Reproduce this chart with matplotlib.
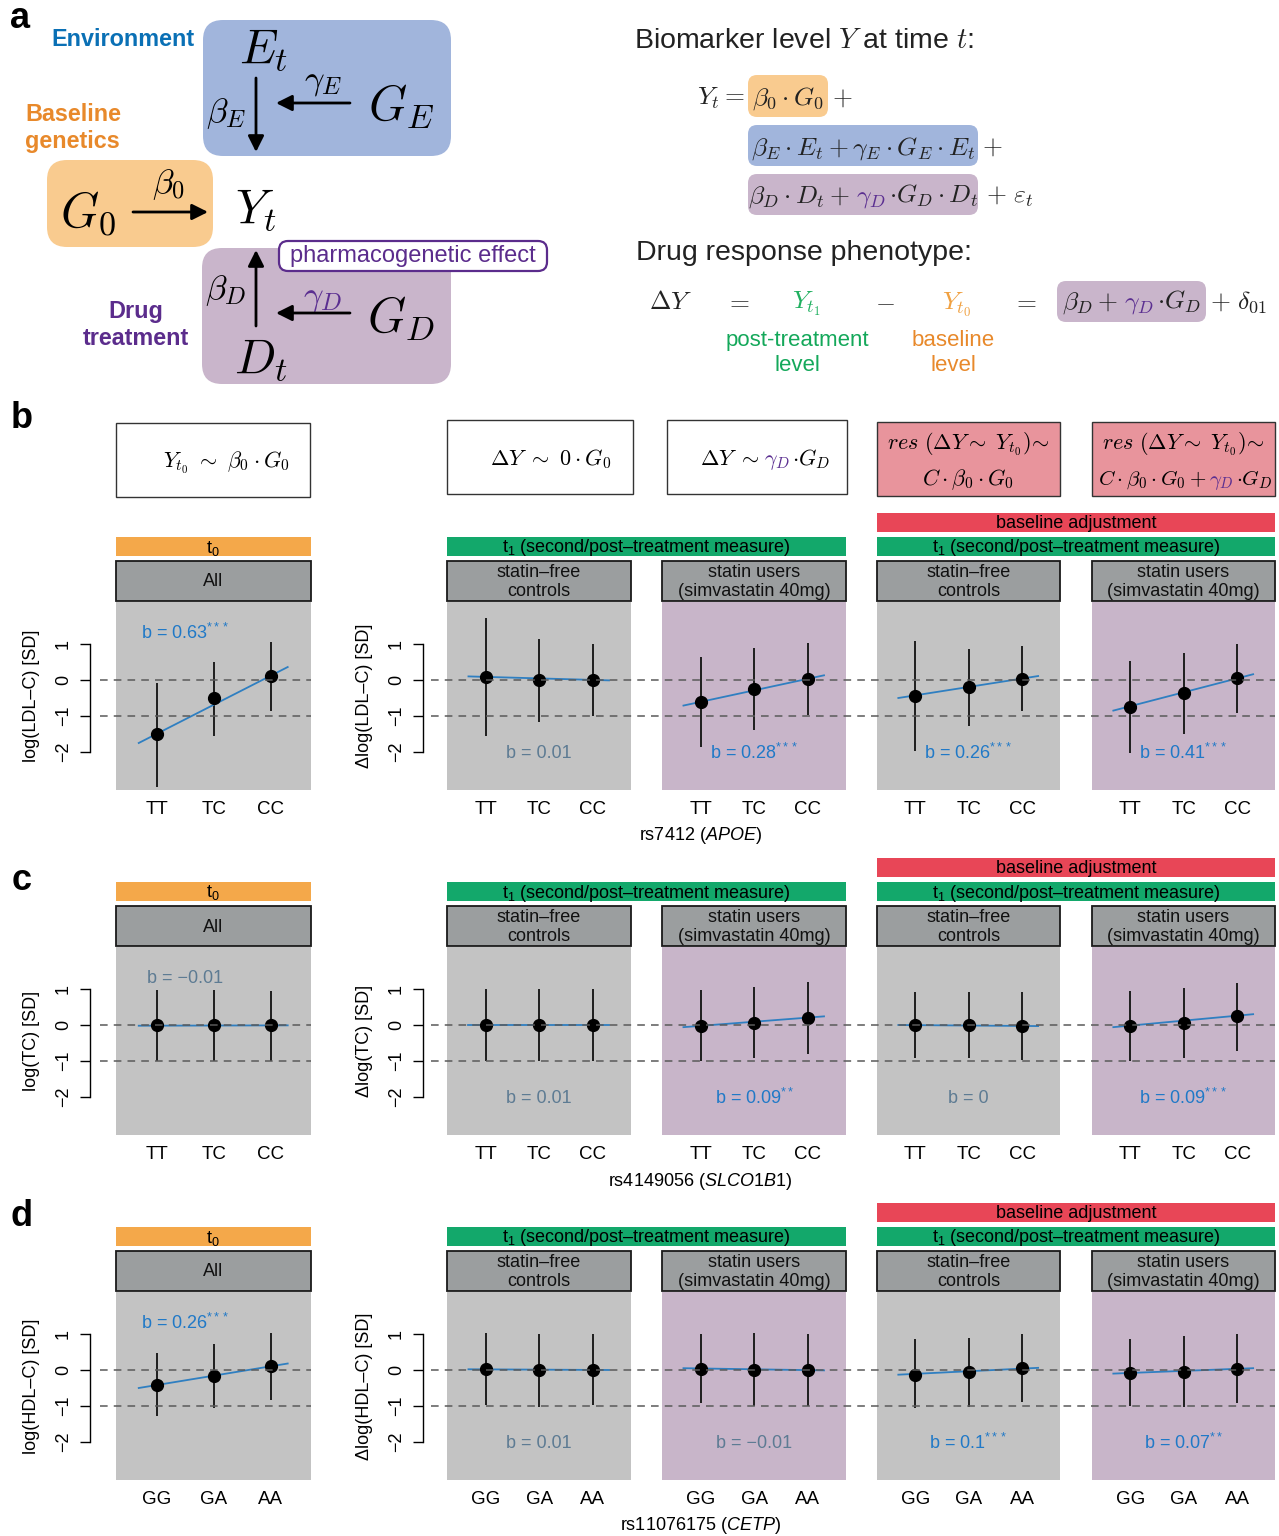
import matplotlib
matplotlib.use('Agg')
import matplotlib.pyplot as plt
from matplotlib.patches import FancyBboxPatch, Rectangle

plt.rcParams['font.family'] = ['Liberation Sans', 'DejaVu Sans']
plt.rcParams['mathtext.fontset'] = 'custom'
plt.rcParams['mathtext.rm'] = 'Liberation Sans'
plt.rcParams['mathtext.it'] = 'Liberation Sans:italic'
plt.rcParams['mathtext.bf'] = 'Liberation Sans:bold'

# ---------------- data ----------------
geno_ldl = ['TT', 'TC', 'CC']
geno_tc = ['TT', 'TC', 'CC']
geno_hdl = ['GG', 'GA', 'AA']

panel_headers = ['All', 'statin\u2013free\ncontrols', 'statin users\n(simvastatin 40mg)',
                 'statin\u2013free\ncontrols', 'statin users\n(simvastatin 40mg)']

ldl_mean = [[-1.50, -0.50, 0.10], [0.08, 0.00, 0.00], [-0.60, -0.25, 0.03],
            [-0.44, -0.20, 0.03], [-0.74, -0.36, 0.05]]
ldl_lo = [[-2.97, -1.55, -0.86], [-1.55, -1.17, -1.00], [-1.85, -1.39, -0.97],
          [-1.96, -1.28, -0.87], [-2.02, -1.49, -0.92]]
ldl_hi = [[-0.08, 0.50, 1.05], [1.72, 1.14, 1.00], [0.64, 0.89, 1.03],
          [1.09, 0.85, 0.94], [0.53, 0.76, 1.00]]
ldl_fit = [[-1.75, 0.36], [0.10, -0.01], [-0.71, 0.13], [-0.50, 0.11], [-0.85, 0.16]]
ldl_b = ['b = 0.63$^{***}$', 'b = 0.01', 'b = 0.28$^{***}$', 'b = 0.26$^{***}$', 'b = 0.41$^{***}$']
ldl_sig = [True, False, True, True, True]

tc_mean = [[0.00, 0.00, 0.00], [0.00, 0.00, 0.00], [-0.02, 0.05, 0.20],
           [0.00, 0.00, -0.02], [-0.02, 0.05, 0.24]]
tc_lo = [[-0.99, -1.00, -0.99], [-1.00, -1.00, -1.00], [-1.01, -0.93, -0.80],
         [-0.93, -0.92, -0.96], [-1.00, -0.92, -0.71]]
tc_hi = [[0.98, 0.98, 0.94], [1.01, 1.01, 1.00], [0.98, 1.05, 1.20],
         [0.92, 0.92, 0.92], [0.95, 1.02, 1.17]]
tc_fit = [[-0.02, -0.01], [0.00, 0.00], [-0.06, 0.24], [0.00, -0.03], [-0.06, 0.30]]
tc_b = ['b = \u22120.01', 'b = 0.01', 'b = 0.09$^{**}$', 'b = 0', 'b = 0.09$^{***}$']
tc_sig = [False, False, True, False, True]

hdl_mean = [[-0.42, -0.16, 0.11], [0.03, -0.01, 0.01], [0.04, 0.00, 0.00],
            [-0.15, -0.06, 0.05], [-0.07, -0.05, 0.04]]
hdl_lo = [[-1.28, -1.06, -0.82], [-0.98, -1.02, -0.98], [-0.93, -1.00, -1.00],
          [-1.06, -1.02, -0.90], [-1.00, -1.03, -0.92]]
hdl_hi = [[0.46, 0.73, 1.02], [1.03, 1.00, 1.00], [1.00, 1.03, 1.00],
          [0.85, 0.90, 1.00], [0.85, 0.94, 1.00]]
hdl_fit = [[-0.50, 0.18], [0.02, 0.00], [0.05, -0.01], [-0.13, 0.06], [-0.10, 0.05]]
hdl_b = ['b = 0.26$^{***}$', 'b = 0.01', 'b = \u22120.01', 'b = 0.1$^{***}$', 'b = 0.07$^{**}$']
hdl_sig = [True, False, False, True, True]

ylabels_ldl = ['log(LDL\u2013C) [SD]', '\u0394log(LDL\u2013C) [SD]']
ylabels_tc = ['log(TC) [SD]', '\u0394log(TC) [SD]']
ylabels_hdl = ['log(HDL\u2013C) [SD]', '\u0394log(HDL\u2013C) [SD]']
xlabel_ldl = 'rs7412 ($\\mathit{APOE}$)'
xlabel_tc = 'rs4149056 ($\\mathit{SLCO1B1}$)'
xlabel_hdl = 'rs11076175 ($\\mathit{CETP}$)'

# ---------------- style ----------------
W, H = 1279, 1536
fig = plt.figure(figsize=(W / 100, H / 100), dpi=100)

C_GRAY_BG = '#c3c3c3'
C_PURP_BG = '#c8b5c9'
C_HEAD = '#9b9e9f'
C_ORANGE = '#f4a84a'
C_GREEN = '#13a86b'
C_RED = '#e84657'
C_PINK = '#e8949c'
C_SIG = '#2079c7'
C_NS = '#5d7b93'
C_FIT = '#2f7fc1'
C_PURPLE = '#5b2f91'
C_TXT = '#222222'

PX = [(116, 311), (447, 631), (662, 846), (877, 1060), (1092, 1275)]
BG = [C_GRAY_BG, C_GRAY_BG, C_PURP_BG, C_GRAY_BG, C_PURP_BG]
YLIM = (-110 / 36, 78 / 36)
XLIM = (0.28, 3.71)
XPOS = [1, 2, 3]
LINE_X = [0.68, 3.30]
ANNOT_X = [1.5, 2, 2, 2, 2]
ANNOT_Y = [1.3, -2.03, -2.03, -2.03, -2.03]
DASH_SEGS = [(100, 311), (431, 1275)]


def pax(x0, y0, x1, y1):
    return fig.add_axes([x0 / W, 1 - y1 / H, (x1 - x0) / W, (y1 - y0) / H])


canvas = fig.add_axes([0, 0, 1, 1])
canvas.set_xlim(0, W)
canvas.set_ylim(H, 0)
canvas.axis('off')
renderer = fig.canvas.get_renderer()


def rich(x, y, parts, fontsize, ha='center', va='baseline'):
    """parts: (string, colour, gap after in px)"""
    texts = []
    cx = x
    for s, c, gap in parts:
        t = canvas.text(cx, y, s, color=c, fontsize=fontsize, ha='left', va=va,
                        math_fontfamily='cm')
        w = t.get_window_extent(renderer).width
        texts.append(t)
        cx += w + gap
    total = cx - x
    if ha == 'center':
        for t in texts:
            px_, py_ = t.get_position()
            t.set_position((px_ - total / 2, py_))
    return texts


def rbox(x0, y0, x1, y1, fc, ec='none', lw=0, r=14, z=1):
    p = FancyBboxPatch((x0, y0), x1 - x0, y1 - y0,
                       boxstyle='round,pad=0,rounding_size=%d' % r,
                       fc=fc, ec=ec, lw=lw, zorder=z)
    canvas.add_patch(p)


def rect(x0, y0, x1, y1, fc, ec='none', lw=0):
    canvas.add_patch(Rectangle((x0, y0), x1 - x0, y1 - y0, fc=fc, ec=ec, lw=lw))


def arrow(x0, y0, x1, y1):
    canvas.annotate('', xy=(x1, y1), xytext=(x0, y0),
                    arrowprops=dict(arrowstyle='-|>', lw=2, color='black',
                                    mutation_scale=24, shrinkA=0, shrinkB=0))


# ---------------- panel a ----------------
for lab, (x, y) in zip('abcd', [(20, 18), (22, 418), (22, 880), (22, 1217)]):
    canvas.text(x, y, lab, fontsize=26, fontweight='bold', ha='center', va='center')

rbox(203, 20, 451, 156, '#a1b5dc', r=20)
rbox(47, 160, 213, 247, '#f9cb8f', r=20)
rbox(202, 248, 451, 384, '#c9b5cb', r=20)
canvas.text(123, 39, 'Environment', color='#0a70b5', fontsize=16.8,
            fontweight='bold', ha='center', va='center')
canvas.text(25, 128, 'Baseline\ngenetics', color='#e8892b', fontsize=16.8,
            fontweight='bold', ha='left', va='center', linespacing=1.27)
canvas.text(136, 325, 'Drug\ntreatment', color='#5b2c8c', fontsize=16.8,
            fontweight='bold', ha='center', va='center', linespacing=1.27)

mt = dict(math_fontfamily='cm', ha='center', va='center', color='black')
canvas.text(264, 50, r'$E_t$', fontsize=35, **mt)
canvas.text(401, 106, r'$G_E$', fontsize=35, **mt)
canvas.text(226, 114, r'$\beta_E$', fontsize=25, **mt)
canvas.text(323, 82, r'$\gamma_E$', fontsize=25, **mt)
arrow(256, 78, 256, 152)
arrow(350, 103, 276, 103)
canvas.text(88, 213, r'$G_0$', fontsize=35, **mt)
canvas.text(168, 185, r'$\beta_0$', fontsize=25, **mt)
arrow(133, 212, 208, 212)
canvas.text(256, 210, r'$Y_t$', fontsize=35, **mt)
canvas.text(226, 291, r'$\beta_D$', fontsize=25, **mt)
arrow(256, 326, 256, 250)
canvas.text(323, 298, r'$\gamma_D$', fontsize=25, math_fontfamily='cm',
            ha='center', va='center', color=C_PURPLE)
arrow(350, 313, 276, 313)
canvas.text(401, 318, r'$G_D$', fontsize=35, **mt)
canvas.text(261, 360, r'$D_t$', fontsize=35, **mt)
rbox(279, 241, 547, 271, 'white', ec='#5b2c8c', lw=1.6, r=9, z=3)
canvas.text(413, 256, 'pharmacogenetic effect', color='#5b2c8c', fontsize=17,
            ha='center', va='center', zorder=4)

# right side equations
FS = 18.5
canvas.text(634, 41, r'Biomarker level $Y$ at time $t$:', fontsize=20.5,
            color=C_TXT, ha='left', va='center', math_fontfamily='cm')
canvas.text(745, 105, r'$Y_t =$', fontsize=FS, color=C_TXT, ha='right',
            va='baseline', math_fontfamily='cm')
rbox(748, 75, 828, 117, '#f9cb8f', r=9)
rich(788, 105, [(r'$\beta_0 \cdot G_0$', C_TXT, 0)], FS)
canvas.text(832, 105, r'$+$', fontsize=FS, color=C_TXT, ha='left', va='baseline',
            math_fontfamily='cm')
rbox(748, 125, 978, 166, '#a1b5dc', r=9)
rich(863, 154, [(r'$\beta_E \cdot E_t + \gamma_E \cdot G_E \cdot E_t$', C_TXT, 0)], FS)
canvas.text(982, 154, r'$+$', fontsize=FS, color=C_TXT, ha='left', va='baseline',
            math_fontfamily='cm')
rbox(748, 174, 978, 215, '#c9b5cb', r=9)
rich(863, 203, [(r'$\beta_D \cdot D_t +$', C_TXT, 6), (r'$\gamma_D$', C_PURPLE, 3),
                (r'$\cdot G_D \cdot D_t$', C_TXT, 0)], FS)
canvas.text(986, 203, r'$+\ \varepsilon_t$', fontsize=FS, color=C_TXT, ha='left',
            va='baseline', math_fontfamily='cm')

canvas.text(636, 253, 'Drug response phenotype:', fontsize=20.5, color=C_TXT,
            ha='left', va='center')
for x, s, c in [(671, r'$\Delta Y$', C_TXT), (738, r'$=$', C_TXT),
                (806, r'$Y_{t_1}$', '#20b060'), (885, r'$-$', C_TXT),
                (957, r'$Y_{t_0}$', '#f0a040'), (1025, r'$=$', C_TXT)]:
    canvas.text(x, 309, s, fontsize=FS, color=c, ha='center', va='baseline',
                math_fontfamily='cm')
rbox(1057, 281, 1206, 322, '#c9b5cb', r=9)
rich(1131, 309, [(r'$\beta_D +$', C_TXT, 6), (r'$\gamma_D$', C_PURPLE, 3),
                 (r'$\cdot G_D$', C_TXT, 0)], FS)
canvas.text(1210, 309, r'$+\ \delta_{01}$', fontsize=FS, color=C_TXT, ha='left',
            va='baseline', math_fontfamily='cm')
canvas.text(797, 353, 'post-treatment\nlevel', color='#14a85a', fontsize=16,
            ha='center', va='center', linespacing=1.29)
canvas.text(953, 353, 'baseline\nlevel', color='#e8892b', fontsize=16,
            ha='center', va='center', linespacing=1.29)

# ---------------- formula boxes (row b) ----------------
FB = 16
rect(116, 423, 310, 497, 'white', ec='#333333', lw=1)
rich(226, 468, [(r'$Y_{t_0}\ \sim\ \beta_0 \cdot G_0$', 'black', 0)], FB)
rect(447, 420, 633, 494, 'white', ec='#333333', lw=1)
rich(551, 465, [(r'$\Delta Y\ \sim\ \mathit{0} \cdot G_0$', 'black', 0)], FB)
rect(667, 420, 847, 494, 'white', ec='#333333', lw=1)
rich(765, 465, [(r'$\Delta Y\ \sim$', 'black', 5), (r'$\gamma_D$', C_PURPLE, 2),
                (r'$\cdot G_D$', 'black', 0)], FB)
rect(877, 422, 1060, 496, C_PINK, ec='#333333', lw=1)
rich(968, 450, [(r'$res\ (\Delta Y \sim\ Y_{t_0})\!\sim$', 'black', 0)], FB)
rich(968, 485, [(r'$C \cdot \beta_0 \cdot G_0$', 'black', 0)], FB)
rect(1092, 422, 1275, 496, C_PINK, ec='#333333', lw=1)
rich(1183, 450, [(r'$res\ (\Delta Y \sim\ Y_{t_0})\!\sim$', 'black', 0)], FB)
rich(1185, 485, [(r'$C \cdot \beta_0 \cdot G_0 +$', 'black', 3), (r'$\gamma_D$', C_PURPLE, 2),
                 (r'$\cdot G_D$', 'black', 0)], 15.2)

# ---------------- data rows ----------------
rows = [
    dict(geno=geno_ldl, mean=ldl_mean, lo=ldl_lo, hi=ldl_hi, fit=ldl_fit, b=ldl_b,
         sig=ldl_sig, ylab=ylabels_ldl, xlab=xlabel_ldl),
    dict(geno=geno_tc, mean=tc_mean, lo=tc_lo, hi=tc_hi, fit=tc_fit, b=tc_b,
         sig=tc_sig, ylab=ylabels_tc, xlab=xlabel_tc),
    dict(geno=geno_hdl, mean=hdl_mean, lo=hdl_lo, hi=hdl_hi, fit=hdl_fit, b=hdl_b,
         sig=hdl_sig, ylab=ylabels_hdl, xlab=xlabel_hdl),
]

ST = 13
for r, row in enumerate(rows):
    off = 345 * r
    # strips
    rect(116, 537 + off, 311, 556 + off, C_ORANGE)
    canvas.text(213, 548 + off, 't$_0$', fontsize=ST, ha='center', va='center')
    for gx0, gx1 in [(447, 846), (877, 1275)]:
        rect(gx0, 537 + off, gx1, 556 + off, C_GREEN)
        canvas.text((gx0 + gx1) / 2, 548 + off, 't$_1$ (second/post\u2013treatment measure)',
                    fontsize=ST, ha='center', va='center')
    rect(877, 513 + off, 1275, 532 + off, C_RED)
    canvas.text(1076, 523.5 + off, 'baseline adjustment', fontsize=ST, ha='center', va='center')
    # headers
    for i, (x0, x1) in enumerate(PX):
        rect(x0, 561 + off, x1, 601 + off, C_HEAD, ec='#1a1a1a', lw=1.3)
        canvas.text((x0 + x1) / 2, 582 + off, panel_headers[i], fontsize=ST,
                    ha='center', va='center', linespacing=1.2, color='#111111')
    canvas.text(700, 836 + off, row['xlab'], fontsize=13, ha='center', va='center')

    for i, (x0, x1) in enumerate(PX):
        ax = pax(x0, 602 + off, x1, 790 + off)
        ax.set_facecolor(BG[i])
        ax.set_xlim(XLIM)
        ax.set_ylim(YLIM)
        for s in ax.spines.values():
            s.set_visible(False)
        ax.set_xticks(XPOS)
        ax.set_xticklabels(row['geno'], fontsize=13.5)
        ax.tick_params(axis='x', length=0, pad=8)
        if i in (0, 1):
            sp = ax.spines['left']
            sp.set_visible(True)
            sp.set_position(('outward', (26 if i == 0 else 24) * 0.72))
            sp.set_bounds(-2, 1)
            sp.set_linewidth(1)
            ax.set_yticks([-2, -1, 0, 1])
            ax.tick_params(axis='y', length=7, width=1, pad=6, labelsize=13,
                           labelrotation=90)
            for lab in ax.get_yticklabels():
                lab.set_va('center')
            ax.set_ylabel(row['ylab'][i], fontsize=13, labelpad=11)
        else:
            ax.set_yticks([])
        ax.vlines(XPOS, row['lo'][i], row['hi'][i], color='#1e1e1e', lw=1.4, zorder=2)
        ax.plot(LINE_X, row['fit'][i], color=C_FIT, lw=1.3, zorder=3)
        ax.plot(XPOS, row['mean'][i], 'o', color='black', ms=8.5, zorder=4)
        ax.text(ANNOT_X[i], ANNOT_Y[i], row['b'][i], ha='center', va='center', fontsize=13,
                color=C_SIG if row['sig'][i] else C_NS)

    for sx0, sx1 in DASH_SEGS:
        ov = pax(sx0, 602 + off, sx1, 790 + off)
        ov.set_ylim(YLIM)
        ov.patch.set_alpha(0)
        ov.axis('off')
        for yv in (0, -1):
            ov.axhline(yv, color='#5a5a5a', lw=1.1, ls=(0, (5, 4)))

fig.savefig('out.png', dpi=100)
